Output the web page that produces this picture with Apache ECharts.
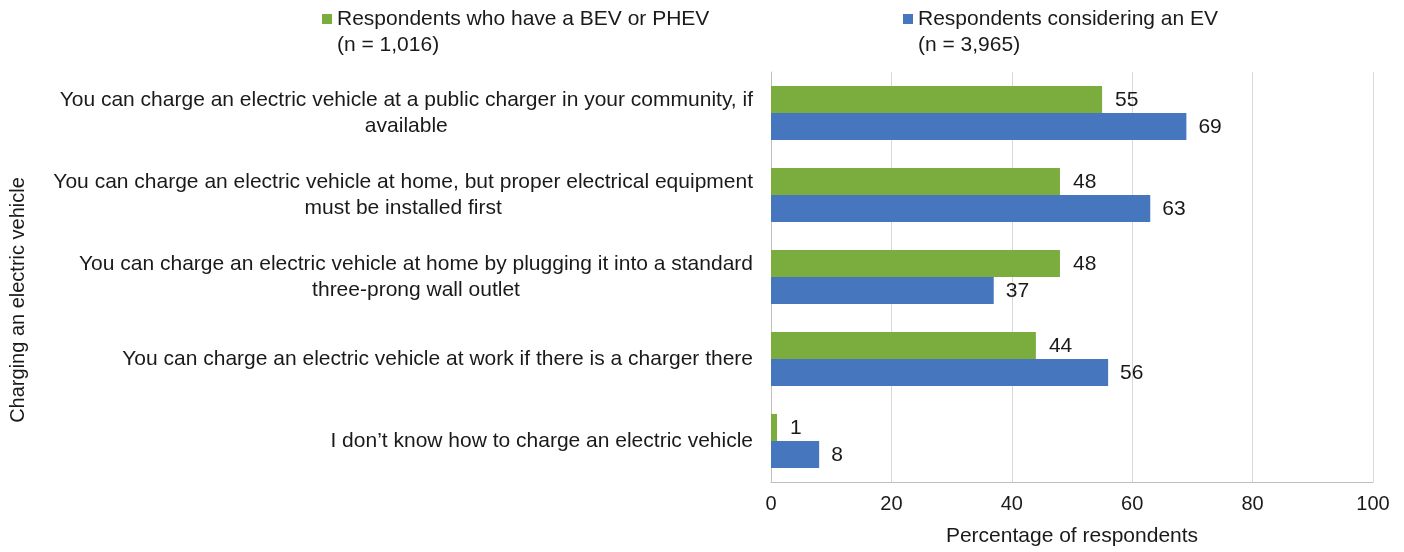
<!DOCTYPE html>
<html>
<head>
<meta charset="utf-8">
<script src="https://cdn.jsdelivr.net/npm/echarts@6/dist/echarts.min.js"></script>
<style>
html,body{margin:0;padding:0;background:#fff;}
#chart{width:1404px;height:552px;}
</style>
</head>
<body>
<div id="chart"></div>
<script>
const categories = [
  "You can charge an electric vehicle at a public charger in your community, if\navailable",
  "You can charge an electric vehicle at home, but proper electrical equipment\nmust be installed first",
  "You can charge an electric vehicle at home by plugging it into a standard\nthree-prong wall outlet",
  "You can charge an electric vehicle at work if there is a charger there",
  "I don\u2019t know how to charge an electric vehicle"
];
const seriesNames = [
  "Respondents who have a BEV or PHEV\n(n = 1,016)",
  "Respondents considering an EV\n(n = 3,965)"
];
const haveEV = [55, 48, 48, 44, 1];
const consideringEV = [69, 63, 37, 56, 8];
const xTicks = [0, 20, 40, 60, 80, 100];

const FONT = "'Liberation Sans', Arial, sans-serif";
const GREEN = '#7AAC3E';
const BLUE = '#4677BE';
const iconPath = 'path://M0,8h10v10h-10z M0,0L0.01,0 M0,52L0.01,52';

const chart = echarts.init(document.getElementById('chart'));
chart.setOption({
  animation: false,
  textStyle: { fontFamily: FONT },
  grid: { left: 771, right: 31, top: 72, bottom: 70, containLabel: false },
  legend: [
    {
      data: [seriesNames[0]], left: 317, top: 1, itemWidth: 10, itemHeight: 52,
      icon: iconPath,
      textStyle: { fontFamily: FONT, fontSize: 21, lineHeight: 26, color: '#1a1a1a' }
    },
    {
      data: [seriesNames[1]], left: 898, top: 1, itemWidth: 10, itemHeight: 52,
      icon: iconPath,
      textStyle: { fontFamily: FONT, fontSize: 21, lineHeight: 26, color: '#1a1a1a' }
    }
  ],
  xAxis: {
    type: 'value', min: 0, max: 100, interval: 20,
    name: 'Percentage of respondents', nameLocation: 'middle', nameGap: 44,
    nameTextStyle: { fontFamily: FONT, fontSize: 21, color: '#1a1a1a' },
    axisLine: { show: true, lineStyle: { color: '#BFBFBF', width: 1 } },
    axisTick: { show: false },
    axisLabel: {
      fontFamily: FONT, fontSize: 20, color: '#1a1a1a', margin: 12,
      formatter: v => xTicks.includes(v) ? String(v) : ''
    },
    splitLine: { show: true, lineStyle: { color: '#D9D9D9', width: 1 } }
  },
  yAxis: {
    type: 'category', data: categories, inverse: true,
    axisLine: { show: true, lineStyle: { color: '#BFBFBF', width: 1 } },
    axisTick: { show: false },
    axisLabel: {
      margin: 18, align: 'right', color: '#1a1a1a',
      formatter: v => v.split('\n').map(s => '{c|' + s + '}').join('\n'),
      rich: { c: { align: 'center', fontFamily: FONT, fontSize: 21, lineHeight: 26, color: '#1a1a1a' } }
    }
  },
  graphic: [{
    type: 'text', x: 18, y: 300, rotation: Math.PI / 2,
    style: { text: 'Charging an electric vehicle', align: 'center', verticalAlign: 'middle',
      font: '20px ' + FONT, fill: '#1a1a1a' }
  }],
  series: [
    {
      name: seriesNames[0], type: 'bar', data: haveEV, barGap: '0%', barCategoryGap: '34%',
      itemStyle: { color: GREEN },
      label: { show: true, position: 'right', distance: 13, offset: [0, 1], fontFamily: FONT, fontSize: 21, color: '#1a1a1a' }
    },
    {
      name: seriesNames[1], type: 'bar', data: consideringEV, barGap: '0%', barCategoryGap: '34%',
      itemStyle: { color: BLUE },
      label: { show: true, position: 'right', distance: 12, offset: [0, 1], fontFamily: FONT, fontSize: 21, color: '#1a1a1a' }
    }
  ]
});
</script>
</body>
</html>
